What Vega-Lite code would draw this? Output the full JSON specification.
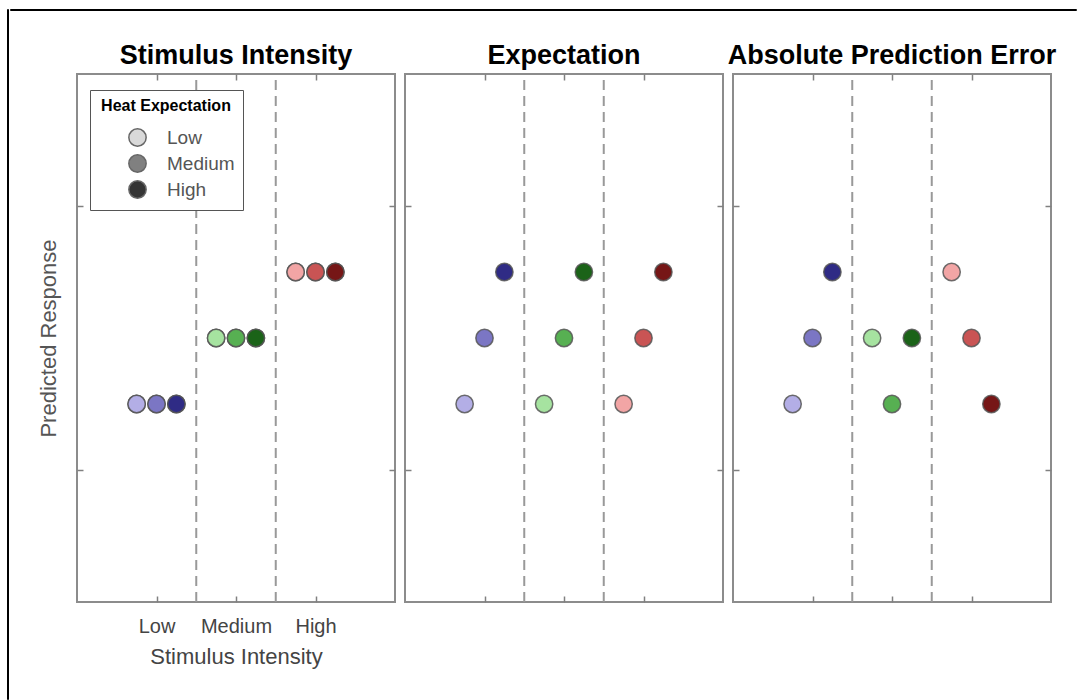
{
  "$schema": "https://vega.github.io/schema/vega-lite/v6.json",
  "padding": {"left": 6, "top": 8, "right": 0, "bottom": 0},
  "background": "white",
  "datasets": {
    "pts": [
      {"intensity": "Low", "expectation": "Low", "cond": "Low-Low", "x": 0.75, "si": 1.5, "ex": 1.5, "ape": 1.5},
      {"intensity": "Low", "expectation": "Medium", "cond": "Low-Medium", "x": 1.0, "si": 1.5, "ex": 2.0, "ape": 2.0},
      {"intensity": "Low", "expectation": "High", "cond": "Low-High", "x": 1.25, "si": 1.5, "ex": 2.5, "ape": 2.5},
      {"intensity": "Medium", "expectation": "Low", "cond": "Medium-Low", "x": 1.75, "si": 2.0, "ex": 1.5, "ape": 2.0},
      {"intensity": "Medium", "expectation": "Medium", "cond": "Medium-Medium", "x": 2.0, "si": 2.0, "ex": 2.0, "ape": 1.5},
      {"intensity": "Medium", "expectation": "High", "cond": "Medium-High", "x": 2.25, "si": 2.0, "ex": 2.5, "ape": 2.0},
      {"intensity": "High", "expectation": "Low", "cond": "High-Low", "x": 2.75, "si": 2.5, "ex": 1.5, "ape": 2.5},
      {"intensity": "High", "expectation": "Medium", "cond": "High-Medium", "x": 3.0, "si": 2.5, "ex": 2.0, "ape": 2.0},
      {"intensity": "High", "expectation": "High", "cond": "High-High", "x": 3.25, "si": 2.5, "ex": 2.5, "ape": 1.5}
    ],
    "seps": [{"b": 1.5}, {"b": 2.5}]
  },
  "spacing": 0,
  "hconcat": [
    {"data": {"values": []}, "mark": "point", "encoding": {}, "width": 1, "height": 690, "view": {"stroke": "#000", "strokeWidth": 1}},
    {
      "spacing": 30,
      "vconcat": [
        {"data": {"values": []}, "mark": "point", "encoding": {}, "width": 1066, "height": 1, "view": {"stroke": "#000", "strokeWidth": 1}},
        {
          "spacing": 10,
          "bounds": "flush",
          "resolve": {"scale": {"color": "independent"}, "legend": {"color": "independent"}},
          "hconcat": [
            {"data": {"values": []}, "mark": "point", "encoding": {}, "width": 57, "height": 1, "view": {"stroke": null}},
            {
              "width": 318, "height": 528,
              "title": {"text": "Stimulus Intensity", "fontSize": 27, "fontWeight": "bold", "color": "#000", "frame": "group", "anchor": "middle", "baseline": "alphabetic", "offset": -18},
              "layer": [
                {
                  "data": {"name": "seps"},
                  "mark": {"type": "rule", "color": "#999", "strokeWidth": 2, "strokeDash": [10, 6]},
                  "encoding": {
                    "x": {"field": "b", "type": "quantitative", "scale": {"domain": [0, 4], "nice": false, "zero": false},
                      "axis": {"orient": "bottom", "values": [1, 2, 3], "tickSize": -6, "labelExpr": "datum.value == 1 ? 'Low' : datum.value == 2 ? 'Medium' : 'High'", "labelFontSize": 20, "labelColor": "#444", "labelPadding": 20, "title": "Stimulus Intensity", "titleFontSize": 22, "titleFontWeight": "normal", "titleColor": "#444", "titlePadding": 10}},
                    "y": {"datum": 0, "type": "quantitative", "scale": {"domain": [0, 4], "nice": false, "zero": false},
                      "axis": {"orient": "left", "values": [1, 3], "tickSize": -6, "labels": false, "title": "Predicted Response", "titleFontSize": 22, "titleFontWeight": "normal", "titleColor": "#555", "titlePadding": 16}},
                    "y2": {"datum": 4}
                  }
                },
                {
                  "data": {"name": "pts"},
                  "mark": {"type": "circle", "size": 300, "opacity": 1, "stroke": "#666", "strokeWidth": 1.5},
                  "encoding": {
                    "x": {"field": "x", "type": "quantitative", "axis": null},
                    "y": {"field": "si", "type": "quantitative", "axis": null},
                    "color": {"field": "expectation", "type": "nominal", "scale": {"domain": ["Low", "Medium", "High"], "range": ["#d9d9d9", "#808080", "#353535"]},
                      "legend": {"title": "Heat Expectation", "orient": "none", "legendX": 13, "legendY": 16, "direction": "vertical", "fillColor": "white", "strokeColor": "#555", "padding": 8, "titleFontSize": 16, "titleFontWeight": "bold", "titleColor": "#000", "titleAnchor": "middle", "titleAlign": "center", "titlePadding": 14, "labelFontSize": 19, "labelColor": "#555", "symbolSize": 300, "symbolType": "circle", "symbolOffset": 30, "labelOffset": 20, "rowPadding": 1, "symbolStrokeColor": "#666", "symbolStrokeWidth": 1.5, "symbolOpacity": 1}}
                  }
                },
                {
                  "data": {"name": "pts"},
                  "mark": {"type": "circle", "size": 300, "opacity": 1, "stroke": "#555", "strokeOpacity": 0.85, "strokeWidth": 1.5},
                  "encoding": {
                    "x": {"field": "x", "type": "quantitative", "axis": {"orient": "top", "values": [1, 2, 3], "tickSize": -6, "labels": false, "title": null}},
                    "y": {"field": "si", "type": "quantitative", "axis": {"orient": "right", "values": [1, 3], "tickSize": -6, "labels": false, "title": null}},
                    "fill": {"field": "cond", "type": "nominal", "legend": null,
                      "scale": {"domain": ["Low-Low", "Low-Medium", "Low-High", "Medium-Low", "Medium-Medium", "Medium-High", "High-Low", "High-Medium", "High-High"],
                        "range": ["#b3aee6", "#7b76c4", "#2f2b85", "#a6e3a0", "#57b052", "#1b6318", "#f2a5a5", "#c95454", "#761616"]}}
                  }
                }
              ],
              "resolve": {"axis": {"x": "independent", "y": "independent"}}
            },
            {
              "width": 318, "height": 528,
              "title": {"text": "Expectation", "fontSize": 27, "fontWeight": "bold", "color": "#000", "frame": "group", "anchor": "middle", "baseline": "alphabetic", "offset": -18},
              "layer": [
                {
                  "data": {"name": "seps"},
                  "mark": {"type": "rule", "color": "#999", "strokeWidth": 2, "strokeDash": [10, 6]},
                  "encoding": {
                    "x": {"field": "b", "type": "quantitative", "scale": {"domain": [0, 4], "nice": false, "zero": false},
                      "axis": {"orient": "bottom", "values": [1, 2, 3], "tickSize": -6, "labels": false, "title": null}},
                    "y": {"datum": 0, "type": "quantitative", "scale": {"domain": [0, 4], "nice": false, "zero": false},
                      "axis": {"orient": "left", "values": [1, 3], "tickSize": -6, "labels": false, "title": null}},
                    "y2": {"datum": 4}
                  }
                },
                {
                  "data": {"name": "pts"},
                  "mark": {"type": "circle", "size": 300, "opacity": 1, "stroke": "#555", "strokeOpacity": 0.85, "strokeWidth": 1.5},
                  "encoding": {
                    "x": {"field": "x", "type": "quantitative", "axis": {"orient": "top", "values": [1, 2, 3], "tickSize": -6, "labels": false, "title": null}},
                    "y": {"field": "ex", "type": "quantitative", "axis": {"orient": "right", "values": [1, 3], "tickSize": -6, "labels": false, "title": null}},
                    "fill": {"field": "cond", "type": "nominal", "legend": null,
                      "scale": {"domain": ["Low-Low", "Low-Medium", "Low-High", "Medium-Low", "Medium-Medium", "Medium-High", "High-Low", "High-Medium", "High-High"],
                        "range": ["#b3aee6", "#7b76c4", "#2f2b85", "#a6e3a0", "#57b052", "#1b6318", "#f2a5a5", "#c95454", "#761616"]}}
                  }
                }
              ],
              "resolve": {"axis": {"x": "independent", "y": "independent"}}
            },
            {
              "width": 318, "height": 528,
              "title": {"text": "Absolute Prediction Error", "fontSize": 27, "fontWeight": "bold", "color": "#000", "frame": "group", "anchor": "middle", "baseline": "alphabetic", "offset": -18},
              "layer": [
                {
                  "data": {"name": "seps"},
                  "mark": {"type": "rule", "color": "#999", "strokeWidth": 2, "strokeDash": [10, 6]},
                  "encoding": {
                    "x": {"field": "b", "type": "quantitative", "scale": {"domain": [0, 4], "nice": false, "zero": false},
                      "axis": {"orient": "bottom", "values": [1, 2, 3], "tickSize": -6, "labels": false, "title": null}},
                    "y": {"datum": 0, "type": "quantitative", "scale": {"domain": [0, 4], "nice": false, "zero": false},
                      "axis": {"orient": "left", "values": [1, 3], "tickSize": -6, "labels": false, "title": null}},
                    "y2": {"datum": 4}
                  }
                },
                {
                  "data": {"name": "pts"},
                  "mark": {"type": "circle", "size": 300, "opacity": 1, "stroke": "#555", "strokeOpacity": 0.85, "strokeWidth": 1.5},
                  "encoding": {
                    "x": {"field": "x", "type": "quantitative", "axis": {"orient": "top", "values": [1, 2, 3], "tickSize": -6, "labels": false, "title": null}},
                    "y": {"field": "ape", "type": "quantitative", "axis": {"orient": "right", "values": [1, 3], "tickSize": -6, "labels": false, "title": null}},
                    "fill": {"field": "cond", "type": "nominal", "legend": null,
                      "scale": {"domain": ["Low-Low", "Low-Medium", "Low-High", "Medium-Low", "Medium-Medium", "Medium-High", "High-Low", "High-Medium", "High-High"],
                        "range": ["#b3aee6", "#7b76c4", "#2f2b85", "#a6e3a0", "#57b052", "#1b6318", "#f2a5a5", "#c95454", "#761616"]}}
                  }
                }
              ],
              "resolve": {"axis": {"x": "independent", "y": "independent"}}
            }
          ]
        }
      ]
    }
  ],
  "config": {
    "font": "Liberation Sans",
    "view": {"stroke": "#8c8c8c", "strokeWidth": 2},
    "axis": {"grid": false, "domain": false, "tickColor": "#808080", "tickWidth": 1.5}
  }
}
